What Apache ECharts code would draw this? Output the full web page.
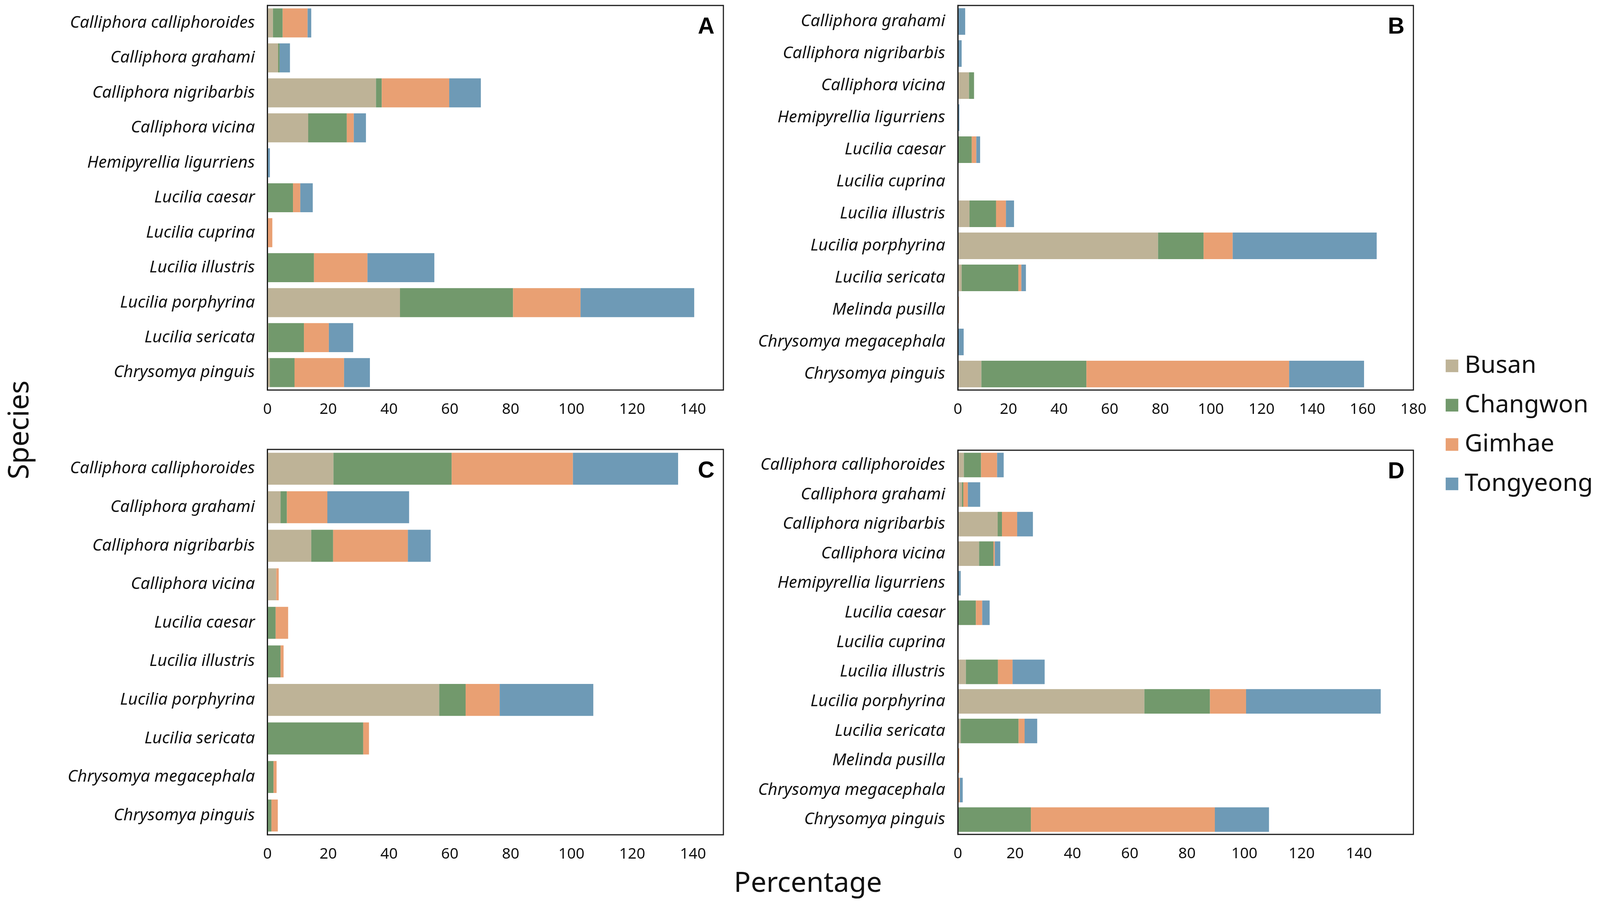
<!DOCTYPE html>
<html><head><meta charset="utf-8">
<script src="https://cdn.jsdelivr.net/npm/echarts@6/dist/echarts.min.js"></script>
<style>html,body{margin:0;padding:0;background:#fff;overflow:hidden}#c{width:100vw;height:100vh}</style>
</head><body><div id="c"></div><script>
const sites = ['Busan', 'Changwon', 'Gimhae', 'Tongyeong'];
const siteColors = ['#BEB397', '#72996C', '#E9A073', '#6E9AB6'];
const panelLetters = ['A', 'B', 'C', 'D'];

const speciesA = ['Calliphora calliphoroides','Calliphora grahami','Calliphora nigribarbis','Calliphora vicina','Hemipyrellia ligurriens','Lucilia caesar','Lucilia cuprina','Lucilia illustris','Lucilia porphyrina','Lucilia sericata','Chrysomya pinguis'];
const busanA     = [1.8, 3.5, 35.7, 13.4, 0, 0, 0, 0, 43.6, 0.3, 0.8];
const changwonA  = [3.2, 0.5, 1.9, 12.7, 0, 8.4, 0, 15.3, 37.2, 11.7, 8.1];
const gimhaeA    = [8.2, 0, 22.2, 2.3, 0, 2.4, 1.6, 17.6, 22.2, 8.2, 16.3];
const tongyeongA = [1.2, 3.4, 10.4, 4.0, 0.8, 4.1, 0, 22.0, 37.4, 8.0, 8.5];

const speciesB = ['Calliphora grahami','Calliphora nigribarbis','Calliphora vicina','Hemipyrellia ligurriens','Lucilia caesar','Lucilia cuprina','Lucilia illustris','Lucilia porphyrina','Lucilia sericata','Melinda pusilla','Chrysomya megacephala','Chrysomya pinguis'];
const busanB     = [0, 0, 4.4, 0, 0, 0, 4.6, 79.1, 1.5, 0, 0, 9.3];
const changwonB  = [0, 0, 2.0, 0, 5.5, 0, 10.5, 18.0, 22.4, 0, 0, 41.5];
const gimhaeB    = [0, 0, 0, 0, 1.8, 0, 3.9, 11.5, 1.2, 0.4, 0, 80.1];
const tongyeongB = [2.9, 1.5, 0, 0.6, 1.5, 0, 3.2, 56.9, 1.8, 0, 2.3, 29.6];

const speciesC = ['Calliphora calliphoroides','Calliphora grahami','Calliphora nigribarbis','Calliphora vicina','Lucilia caesar','Lucilia illustris','Lucilia porphyrina','Lucilia sericata','Chrysomya megacephala','Chrysomya pinguis'];
const busanC     = [21.7, 4.3, 14.4, 2.9, 0, 0, 56.5, 0, 0, 0];
const changwonC  = [38.9, 2.1, 7.2, 0, 2.7, 4.3, 8.7, 31.5, 2.0, 1.3];
const gimhaeC    = [39.9, 13.3, 24.6, 0.8, 4.1, 1.0, 11.2, 1.9, 1.0, 2.1];
const tongyeongC = [34.6, 26.9, 7.5, 0, 0, 0, 30.8, 0, 0, 0];

const speciesD = ['Calliphora calliphoroides','Calliphora grahami','Calliphora nigribarbis','Calliphora vicina','Hemipyrellia ligurriens','Lucilia caesar','Lucilia cuprina','Lucilia illustris','Lucilia porphyrina','Lucilia sericata','Melinda pusilla','Chrysomya megacephala','Chrysomya pinguis'];
const busanD     = [2.1, 1.4, 13.9, 7.4, 0, 0, 0, 2.8, 65.1, 1.0, 0, 0.3, 0];
const changwonD  = [6.0, 0.5, 1.5, 5.0, 0, 6.3, 0, 11.2, 22.9, 20.2, 0, 0, 25.5];
const gimhaeD    = [5.6, 1.6, 5.3, 0.5, 0, 2.2, 0.2, 5.1, 12.6, 2.1, 0.5, 0.4, 64.2];
const tongyeongD = [2.3, 4.3, 5.5, 1.9, 1.0, 2.6, 0, 11.2, 47.0, 4.4, 0, 1.0, 18.9];

const axisMax = [150, 180, 150, 159];
const axisInterval = 20;
const showMaxTick = [false, true, false, false];

const panelSpecies = [speciesA, speciesB, speciesC, speciesD];
const panelValues = [
  [busanA, changwonA, gimhaeA, tongyeongA],
  [busanB, changwonB, gimhaeB, tongyeongB],
  [busanC, changwonC, gimhaeC, tongyeongC],
  [busanD, changwonD, gimhaeD, tongyeongD]
];

// layout designed for a 4313 x 2331 canvas; scaled to the actual viewport
const W0 = 4313, H0 = 2331;
const el = document.getElementById('c');
const vw = el.clientWidth || window.innerWidth, vh = el.clientHeight || window.innerHeight;
const sx = vw / W0, sy = vh / H0, s = Math.min(sx, sy);
const X = v => v * sx, Y = v => v * sy, F = v => v * s;

const layout = [
  {left: 721, top: 14, width: 1229, height: 984},
  {left: 2582, top: 14, width: 1228, height: 984},
  {left: 721, top: 1150, width: 1229, height: 986},
  {left: 2582, top: 1152, width: 1228, height: 983}
];

const FONT = "'Noto Sans', 'Open Sans', sans-serif";
const grids = [], xAxes = [], yAxes = [], series = [], graphics = [];

layout.forEach((g, i) => {
  grids.push({left: X(g.left), top: Y(g.top), width: X(g.width), height: Y(g.height),
    show: true, borderColor: '#1a1a1a', borderWidth: F(3), backgroundColor: 'transparent', containLabel: false});
  xAxes.push({type: 'value', gridIndex: i, min: 0, max: axisMax[i], interval: axisInterval,
    axisLine: {show: false}, axisTick: {show: false}, splitLine: {show: false},
    axisLabel: {fontFamily: FONT, fontSize: F(41), color: '#111', margin: Y(30), showMaxLabel: showMaxTick[i], showMinLabel: true}});
  yAxes.push({type: 'category', gridIndex: i, data: panelSpecies[i], inverse: true, z: 5,
    axisLine: {show: true, lineStyle: {color: '#1a1a1a', width: F(3)}}, axisTick: {show: false},
    axisLabel: {fontFamily: FONT, fontStyle: 'italic', fontSize: F(45), color: '#111', margin: X(34)}});
  sites.forEach((st, k) => {
    series.push({name: st, type: 'bar', stack: 'panel' + i, xAxisIndex: i, yAxisIndex: i,
      data: panelValues[i][k], barCategoryGap: '17%', itemStyle: {color: siteColors[k]},
      emphasis: {disabled: true}, animation: false});
  });
  graphics.push({type: 'text', x: X(g.left + g.width - 24), y: Y(g.top + 26),
    style: {text: panelLetters[i], font: 'bold ' + F(62) + "px 'Liberation Sans', Arial, sans-serif", fill: '#000',
      textAlign: 'right', textVerticalAlign: 'top'}});
});

graphics.push({type: 'text', x: X(2178), y: Y(2262),
  style: {text: 'Percentage', font: F(75) + 'px ' + FONT, fill: '#111', textAlign: 'center', textVerticalAlign: 'middle'}});
graphics.push({type: 'text', x: X(55), y: Y(1100), rotation: Math.PI / 2,
  style: {text: 'Species', font: F(76) + 'px ' + FONT, fill: '#111', textAlign: 'center', textVerticalAlign: 'middle'}});

const chart = echarts.init(el, null, {renderer: 'canvas'});
chart.setOption({
  animation: false,
  backgroundColor: '#fff',
  grid: grids, xAxis: xAxes, yAxis: yAxes, series: series,
  legend: {data: sites, orient: 'vertical', left: X(3897), top: Y(900), itemWidth: F(34), itemHeight: F(34), itemGap: F(30),
    icon: 'rect', selectedMode: false, padding: 0,
    textStyle: {fontFamily: FONT, fontSize: F(66), lineHeight: F(76), color: '#111', padding: [0, 0, 0, F(12)]}},
  graphic: graphics
});
</script></body></html>
